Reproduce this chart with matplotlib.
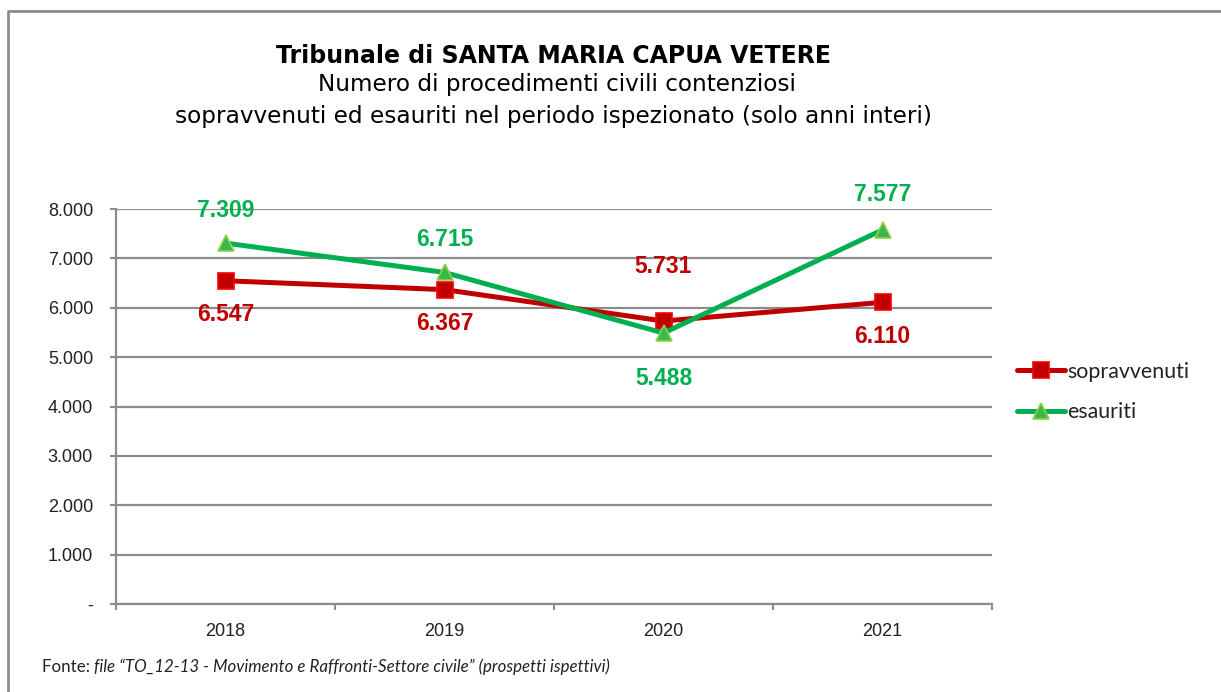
import matplotlib
matplotlib.use("Agg")
import matplotlib.pyplot as plt
from matplotlib.lines import Line2D
from matplotlib.ticker import FixedLocator

# ---- data ----
years = ["2018", "2019", "2020", "2021"]
sopravvenuti = [6547, 6367, 5731, 6110]
esauriti = [7309, 6715, 5488, 7577]
sopr_labels = ["6.547", "6.367", "5.731", "6.110"]
esau_labels = ["7.309", "6.715", "5.488", "7.577"]
y_ticks = [0, 1000, 2000, 3000, 4000, 5000, 6000, 7000, 8000]
y_tick_labels = ["-", "1.000", "2.000", "3.000", "4.000", "5.000", "6.000", "7.000", "8.000"]

title = "Tribunale di SANTA MARIA CAPUA VETERE"
subtitle1 = "Numero di procedimenti civili contenziosi"
subtitle2 = "sopravvenuti ed esauriti nel periodo ispezionato (solo anni interi)"
source_lead = "Fonte: "
source_text = "file \u201cTO_12-13 - Movimento e Raffronti-Settore civile\u201d (prospetti ispettivi)"

RED = "#C00000"
GREEN = "#00B050"
GRID = "#8c8c8c"

W, H = 1221, 692
fig = plt.figure(figsize=(W / 100, H / 100), dpi=100)
fig.patch.set_facecolor("white")

ax = fig.add_axes([116 / W, 1 - 604 / H, (992 - 116) / W, (604 - 209) / H])
x = list(range(len(years)))

ax.plot(x, sopravvenuti, color=RED, lw=3.6, marker="s", markersize=12,
        markerfacecolor=RED, markeredgecolor="#FF0000", markeredgewidth=1.2,
        label="sopravvenuti", zorder=3, solid_capstyle="round")
ax.plot(x, esauriti, color=GREEN, lw=3.6, marker="^", markersize=12,
        markerfacecolor="#3cb84a", markeredgecolor="#92D050", markeredgewidth=1.2,
        label="esauriti", zorder=4, solid_capstyle="round")

# data labels (offsets in pixels)
sopr_off = [-34, -34, 55, -34]
esau_off = [33, 33, -45, 35]
lab_font = dict(family="Liberation Sans", fontsize=16.5, fontweight="bold")
for i in x:
    ax.annotate(sopr_labels[i], (i, sopravvenuti[i]), xytext=(0, sopr_off[i]),
                textcoords="offset pixels", ha="center", va="center",
                color=RED, zorder=6, **lab_font)
    ax.annotate(esau_labels[i], (i, esauriti[i]), xytext=(0, esau_off[i]),
                textcoords="offset pixels", ha="center", va="center",
                color=GREEN, zorder=6, **lab_font)

ax.set_xlim(-0.5, 3.5)
ax.set_ylim(0, 8000)
ax.set_yticks(y_ticks)
ax.set_yticklabels(y_tick_labels, family="Liberation Sans", fontsize=13, color="#222222")
ax.set_xticks(x)
ax.set_xticklabels(years, family="Liberation Sans", fontsize=13, color="#222222")
ax.xaxis.set_minor_locator(FixedLocator([-0.5, 0.5, 1.5, 2.5, 3.5]))
ax.tick_params(axis="x", which="major", length=0, pad=14)
ax.tick_params(axis="x", which="minor", length=4.5, width=1.5, color=GRID, direction="out")
ax.tick_params(axis="y", length=4.5, width=1.5, color=GRID, direction="out", pad=12)

ax.grid(axis="y", color=GRID, lw=1.6, zorder=0)
ax.set_axisbelow(True)
for s in ["top", "right"]:
    ax.spines[s].set_visible(False)
for s in ["left", "bottom"]:
    ax.spines[s].set_color(GRID)
    ax.spines[s].set_linewidth(1.6)

# legend
leg = fig.legend(loc="center left", bbox_to_anchor=(1008 / W, 1 - 392 / H),
                 frameon=False, prop=dict(family="Lato", size=15.4),
                 handlelength=2.25, handletextpad=0.1, labelspacing=0.95,
                 borderaxespad=0)
for t in leg.get_texts():
    t.set_color("#222222")

# titles
fig.text(553 / W, 1 - 56 / H, title, ha="center", va="center",
         family="DejaVu Sans", fontsize=17, fontweight="bold", color="black")
fig.text(557 / W, 1 - 85 / H, subtitle1, ha="center", va="center",
         family="DejaVu Sans", fontsize=16.7, color="black")
fig.text(553 / W, 1 - 116 / H, subtitle2, ha="center", va="center",
         family="DejaVu Sans", fontsize=16.7, color="black")

# source note
t1 = fig.text(42 / W, 1 - 667 / H, source_lead, ha="left", va="center",
              family="Lato", fontsize=12.2, color="#222222")
fig.canvas.draw()
bb = t1.get_window_extent()
fig.text(bb.x1 / W, 1 - 667 / H, source_text,
         ha="left", va="center", family="Lato", fontsize=12.2, style="italic", color="#222222")

# outer frame (left and top edges)
fig.add_artist(Line2D([8 / W, 8 / W, 1.0], [0, 1 - 11 / H, 1 - 11 / H],
                      transform=fig.transFigure, color="#8c8c8c", lw=2.0))

fig.savefig("out.png", dpi=100, facecolor="white")
